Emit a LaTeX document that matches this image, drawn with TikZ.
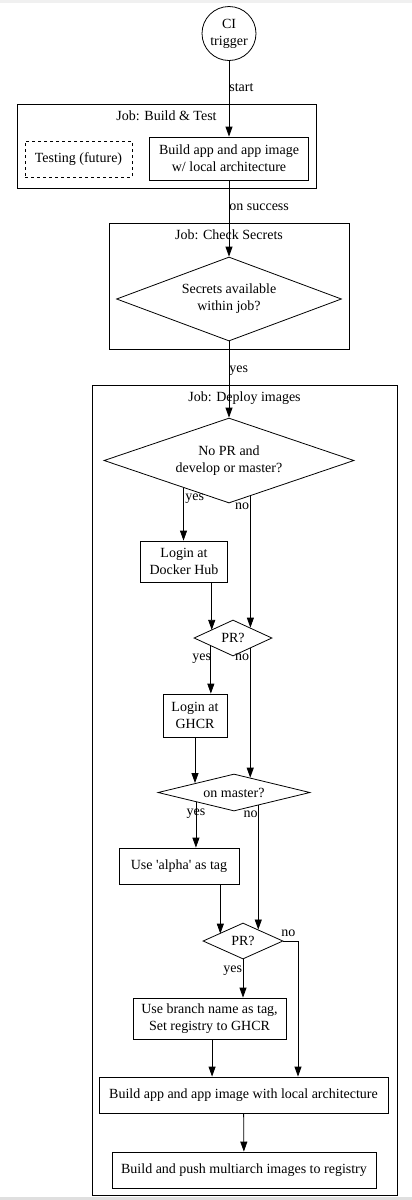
\documentclass[tikz,border=0pt]{standalone}
\usepackage{fontspec}
\setmainfont{Liberation Serif}
\usetikzlibrary{shapes.geometric,arrows.meta}

\tikzset{
  box/.style={draw, rectangle, inner sep=0pt, align=center},
  decision/.style={draw, diamond, inner sep=0pt, align=center},
  cluster/.style={draw, rectangle, inner sep=0pt},
  flow/.style={-{Triangle[length=10pt,width=7pt]}},
}

\begin{document}
\begin{tikzpicture}[x=1pt, y=-1pt, line width=0.8pt,
    font=\fontsize{14}{17}\selectfont]
  \useasboundingbox (0,0) rectangle (412,1200);
  \fill[gray!12] (0,0) rectangle (412,3);
  \fill[gray!25] (0,1197) rectangle (412,1200);

  % Jobs
  \node[cluster, minimum width=299, minimum height=84] (buildjob) at (166.5,146) {};
  \node[anchor=base] (buildtitle) at (166.5,120.5) {Job: Build \& Test};
  \node[cluster, minimum width=240, minimum height=126] (secretsjob) at (229,286) {};
  \node[anchor=base] (secretstitle) at (229,239.5) {Job: Check Secrets};
  \node[cluster, minimum width=305, minimum height=810] (deployjob) at (244.5,790) {};
  \node[anchor=base] (deploytitle) at (244.5,401) {Job: Deploy images};

  % Trigger and build
  \node[draw, circle, inner sep=0pt, minimum size=54, align=center] (trigger) at (229,33.5) {CI\\trigger};
  \node[box, dashed, minimum width=107, minimum height=36] (testing) at (78.5,159) {Testing (future)};
  \node[box, minimum width=159, minimum height=43] (build) at (229,158.5) {Build app and app image\\w/ local architecture};

  % Secrets
  \node[decision, shape aspect=2.7, minimum width=225, minimum height=84] (secrets) at (229,299) {Secrets available\\within job?};

  % Deploy
  \node[decision, shape aspect=2.9, minimum width=250, minimum height=85] (nopr) at (229,460.5) {No PR and\\develop or master?};
  \node[box, minimum width=87, minimum height=41] (dockerhub) at (184,561.5) {Login at\\Docker Hub};
  \node[decision, shape aspect=2.2, minimum width=78, minimum height=36] (pr1) at (233,638) {PR?};
  \node[box, minimum width=64, minimum height=43] (ghcr) at (195,715.5) {Login at\\GHCR};
  \node[decision, shape aspect=4, minimum width=152, minimum height=37] (master) at (234,792.5) {on master?};
  \node[box, minimum width=120, minimum height=36] (alpha) at (179,866) {Use \textquotesingle alpha\textquotesingle{} as tag};
  \node[decision, shape aspect=2.2, minimum width=80, minimum height=36] (pr2) at (243,941) {PR?};
  \node[box, minimum width=153, minimum height=41] (branch) at (209.5,1018.5) {Use branch name as tag,\\Set registry to GHCR};
  \node[box, minimum width=289, minimum height=36] (buildlocal) at (243.5,1095) {Build app and app image with local architecture};
  \node[box, minimum width=264, minimum height=36] (push) at (244,1170) {Build and push multiarch images to registry};
  \coordinate (nobend) at (298,941);

  % Edges
  \draw[flow] (trigger) -- (build);
  \draw[flow] (build) -- (secrets);
  \draw[flow] (secrets) -- (nopr);
  \draw[flow] (nopr.211) -- (nopr.211 |- dockerhub.north);
  \draw[flow] (nopr.301) -- (nopr.301 |- pr1.31);
  \draw[flow] (dockerhub.323) -- (dockerhub.323 |- pr1.160);
  \draw[flow] (pr1.200) -- (pr1.200 |- ghcr.north);
  \draw[flow] (pr1.329) -- (pr1.329 |- master.42);
  \draw[flow] (ghcr.south) -- (ghcr.south |- master.166);
  \draw[flow] (master.194) -- (master.194 |- alpha.north);
  \draw[flow] (master.332) -- (master.332 |- pr2.37);
  \draw[flow] (alpha.336) -- (alpha.336 |- pr2.163);
  \draw[flow] (pr2.south) -- (pr2.south |- branch.north);
  \draw[flow] (pr2.east) -- (nobend) -- (nobend |- buildlocal.north);
  \draw[flow] (branch.277) -- (branch.277 |- buildlocal.north);
  \draw[flow] (buildlocal) -- (push);

  % Edge labels
  \node[anchor=base west, inner sep=0pt] (startlbl) at (229,91.5) {start};
  \node[anchor=base west, inner sep=0pt] (successlbl) at (229,210) {on success};
  \node[anchor=base west, inner sep=0pt] (secretsyes) at (229,372.5) {yes};
  \node[anchor=base west, inner sep=0pt] (nopryes) at (185,500.5) {yes};
  \node[anchor=base east, inner sep=0pt] (noprno) at (249.5,509) {no};
  \node[anchor=base east, inner sep=0pt] (pr1yes) at (211.5,660) {yes};
  \node[anchor=base east, inner sep=0pt] (pr1no) at (249.5,660) {no};
  \node[anchor=base, inner sep=0pt] (masteryes) at (196,815) {yes};
  \node[anchor=base east, inner sep=0pt] (masterno) at (258,817) {no};
  \node[anchor=base east, inner sep=0pt] (pr2yes) at (242.5,972) {yes};
  \node[anchor=base west, inner sep=0pt] (pr2no) at (281,936) {no};
\end{tikzpicture}
\end{document}
